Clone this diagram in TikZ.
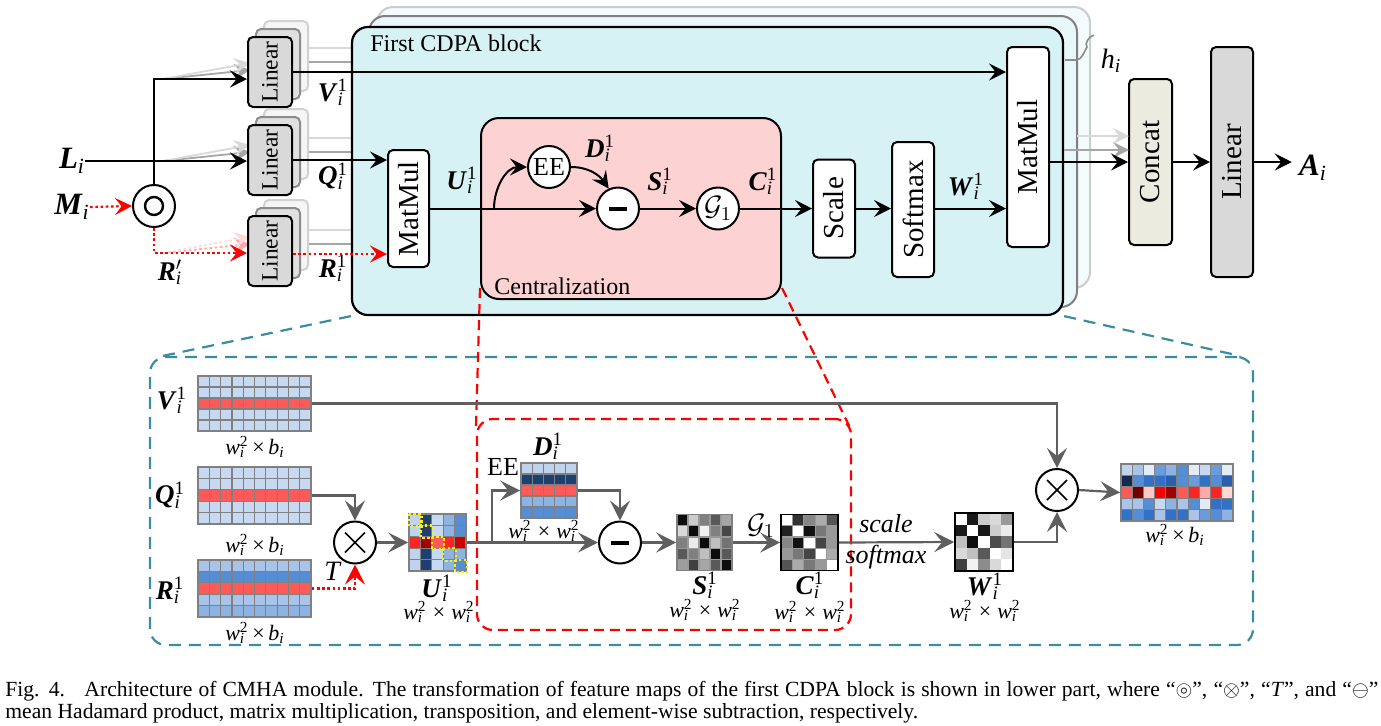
\documentclass[tikz,border=0pt]{standalone}
\usepackage{fix-cm}
\usepackage{amssymb}
\usepackage{fontspec}
\setmainfont{Liberation Serif}
\usetikzlibrary{arrows.meta,calc,decorations.pathreplacing}
\newcommand\fs[1]{\fontsize{#1}{#1}\selectfont}
\newcommand\supsub[2]{\begingroup\setbox0\hbox{\textsuperscript{#1}}\setbox2\hbox{\textsubscript{#2}}\ifdim\wd0>\wd2 \rlap{\box2}\box0 \else\rlap{\box0}\box2 \fi\endgroup}
\newcommand\bl[3]{\textbf{\textit{#1}}\supsub{#2}{\textit{#3}}}
\newcommand\dwb{\textit{w}\supsub{2}{\textit{i}}\,×\,\textit{b}\textsubscript{\textit{i}}}
\newcommand\dww{\textit{w}\supsub{2}{\textit{i}}\;×\;\textit{w}\supsub{2}{\textit{i}}}
\definecolor{cdpa}{HTML}{D6F2F5}
\definecolor{cdpaB}{HTML}{E8F7F9}
\definecolor{cdpaC}{HTML}{F4FBFC}
\definecolor{centc}{HTML}{FDD2D2}
\definecolor{lingray}{HTML}{D9D9D9}
\definecolor{concatc}{HTML}{EBEBE0}
\definecolor{teal2}{HTML}{3A8CA0}
\definecolor{garrc}{HTML}{5F5F5F}
\definecolor{gridc}{HTML}{808080}
\definecolor{qa}{HTML}{C6D9F1}
\definecolor{rr}{HTML}{FF5A5A}
\definecolor{ba}{HTML}{C0D3EC}
\definecolor{bb}{HTML}{A9C4E8}
\definecolor{bc}{HTML}{8DB3E2}
\definecolor{bd}{HTML}{6A9CDB}
\definecolor{be}{HTML}{558ED5}
\definecolor{bf}{HTML}{3271C6}
\definecolor{bg}{HTML}{2A5FAE}
\definecolor{bn}{HTML}{1F3F70}
\definecolor{bx}{HTML}{152A50}
\definecolor{bw}{HTML}{E3EBF6}
\definecolor{ra}{HTML}{700000}
\definecolor{rb}{HTML}{FFC8C8}
\definecolor{rc}{HTML}{FF0000}
\definecolor{rd}{HTML}{A00000}
\definecolor{re}{HTML}{FF2424}
\definecolor{rf}{HTML}{FFA8A8}
\definecolor{rg}{HTML}{FFD8D8}
\definecolor{rh}{HTML}{CC0000}
% cells: x0 y0 cw ch rows
\newcommand\cells[5]{%
  \foreach \rowc [count=\r from 0] in {#5}{%
    \foreach \cc [count=\k from 0] in \rowc{%
      \fill[fill=\cc] ({#1+\k*#3},{#2+\r*#4}) rectangle ++(#3,#4);}}}
% grid lines: x0 y0 cw ch ncols nrows color
\newcommand\gridl[7]{%
  \foreach \k in {1,...,#5}{\draw[#7, line width=0.6pt] ({#1+\k*#3},#2) -- ++(0,{#6*#4});}
  \foreach \k in {1,...,#6}{\draw[#7, line width=0.6pt] (#1,{#2+\k*#4}) -- ++({#5*#3},0);}}
\tikzset{
  arr/.style={line width=1pt, -{Stealth[length=8.5pt,width=8.5pt,inset=3.3pt]}},
  rdot/.style={line width=1.1pt, draw=red, dash pattern=on 1.3pt off 1.3pt, -{Stealth[length=8.5pt,width=8.5pt,inset=3.3pt]}},
  garr/.style={line width=1.1pt, draw=garrc, -{Stealth[length=10pt,width=10pt,inset=4pt]}},
  rdarr/.style={line width=1.1pt, draw=red, dash pattern=on 1.3pt off 1.3pt, -{Stealth[length=10pt,width=10pt,inset=4pt]}},
  blk/.style={draw, line width=1pt, rounded corners=2.5pt, inner sep=0pt, font=\fs{14.5}},
  lin/.style={blk, minimum width=22pt, minimum height=35pt, font=\fs{11.7}},
  circ/.style={circle, draw, line width=1pt, fill=white, minimum size=21pt, inner sep=0pt},
  lab/.style={inner sep=0pt, font=\fs{13.5}},
  dim/.style={inner sep=0pt, font=\fs{11}},
  matn/.style={draw=gridc, line width=0.8pt, inner sep=0pt},
  tdash/.style={draw=teal2, line width=1.1pt, dash pattern=on 6pt off 4pt},
  rdash/.style={draw=red, line width=1.1pt, dash pattern=on 5pt off 3pt},
  faintA/.style={line width=0.9pt, draw=black!35},
  faintB/.style={line width=0.9pt, draw=black!15},
  ftip/.style={-{Stealth[length=8pt,width=8pt,inset=3pt]}},
}
\begin{document}
\begin{tikzpicture}[x=0.5pt,y=-0.5pt]
\useasboundingbox (0,0) rectangle (1381,725);

% ---------- CDPA layers ----------
\draw[draw=black!20, fill=cdpaC, line width=1pt, rounded corners=8pt] (377,7) rectangle (1090,288);
\draw[draw=black!50, fill=cdpaB, line width=1pt, rounded corners=8pt] (369,16) rectangle (1077,307);

% faint lines behind linear stacks
\foreach \yy in {0,90,182}{
  \draw[faintA] (300,{62+\yy}) -- (352,{62+\yy});
  \draw[faintB] (308,{48+\yy}) -- (352,{48+\yy});
}
\draw[faintA, ftip] (163,79) -- (250,70);
\draw[faintB, ftip] (163,79) -- (250,63);
\draw[faintA, ftip] (163,161) -- (250,152);
\draw[faintB, ftip] (163,161) -- (250,145);
\draw[faintA, draw=red!35, dash pattern=on 1.3pt off 1.3pt, ftip] (163,253) -- (250,244);
\draw[faintB, draw=red!15, dash pattern=on 1.3pt off 1.3pt, ftip] (163,253) -- (250,237);

% main block
\node[draw, line width=1.1pt, fill=cdpa, rounded corners=8pt, minimum width=355.5pt, minimum height=144pt, inner sep=0pt] (cdpa) at (707.5,171) {};
\node[anchor=west, inner sep=0pt, font=\fs{12}] (cdpat) at (370,43) {First CDPA block};

% h_i brace
\draw[black!45, line width=0.8pt] (1065,60) -- (1076,60) .. controls (1082,60) and (1084,52) .. (1087,47) .. controls (1084,44) and (1089,36) .. (1094,35);
\node[inner sep=0pt, font=\fs{14}] (hl) at (1111,61) {\textit{h}\textsubscript{\textit{i}}};

% centralization
\node[draw, line width=1pt, fill=centc, rounded corners=9pt, minimum width=150pt, minimum height=90.5pt, inner sep=0pt] (cent) at (631,208.5) {};
\node[anchor=west, inner sep=0pt, font=\fs{12}] (centt) at (494,286) {Centralization};

% linear stacks
\foreach \nm/\yy in {linV/72, linQ/160, linR/251}{
  \node[lin, draw=black!18, fill=black!4] at (286,{\yy-16}) {};
  \node[lin, draw=black!45, fill=black!12] at (278,{\yy-8}) {};
  \node[lin, fill=lingray] (\nm) at (270,\yy) {\rotatebox{90}{Linear}};
}

% boxes
\node[blk, fill=white, minimum width=20.5pt, minimum height=58.5pt] (mm1) at (408.5,208.5) {\rotatebox{90}{MatMul}};
\node[blk, fill=white, minimum width=21pt, minimum height=49pt] (scale) at (834,208.5) {\rotatebox{90}{Scale}};
\node[blk, fill=white, minimum width=21pt, minimum height=67.5pt] (soft) at (913,209.5) {\rotatebox{90}{Softmax}};
\node[blk, fill=white, minimum width=21pt, minimum height=100pt] (mm2) at (1028,147) {\rotatebox{90}{MatMul}};
\node[blk, fill=concatc, minimum width=21.5pt, minimum height=83pt] (concat) at (1150.5,162) {\rotatebox{90}{Concat}};
\node[blk, fill=lingray, minimum width=21pt, minimum height=115pt] (lin2) at (1232,162) {\rotatebox{90}{Linear}};

% faint arrows into Concat
\coordinate (cA) at (1129,150);
\coordinate (cB) at (1129,136);
\draw[faintA, ftip] (cdpa.east |- cA) -- (cA);
\draw[faintB, ftip] (1077,136) -- (cB);

% circles
\node[circ] (had) at (154,206) {};
\node[circle, draw, line width=1.2pt, minimum size=9pt, inner sep=0pt] (hadin) at (had) {};
\node[circ, font=\fs{13}] (ee) at (549,167) {EE};
\node[circ] (mn1) at (618,208.5) {};
\draw[line width=2pt] ($(mn1)+(-9,0)$) -- ($(mn1)+(9,0)$);
\node[circ, font=\fs{14}] (g1) at (718,208.5) {$\mathcal{G}_1$};

% labels top
\node[lab, font=\fs{15.5}] (Ll) at (72,161) {\bl{L}{}{i}};
\node[lab, font=\fs{15.5}] (Ml) at (72,207) {\bl{M}{}{i}};
\node[lab, font=\fs{15.5}] (Al) at (1313,168) {\bl{A}{}{i}};
\node[lab] (Rpl) at (170,272) {\bl{R}{$\prime$}{i}};
\node[lab] (Vl) at (333,92) {\bl{V}{1}{i}};
\node[lab] (Ql) at (333,176) {\bl{Q}{1}{i}};
\node[lab] (Rl) at (333,268) {\bl{R}{1}{i}};
\node[lab] (Ul) at (462,180) {\bl{U}{1}{i}};
\node[lab] (Dl) at (600,148) {\bl{D}{1}{i}};
\node[lab] (Sl) at (660,181) {\bl{S}{1}{i}};
\node[lab] (Cl) at (763,181) {\bl{C}{1}{i}};
\node[lab] (Wl) at (966,186) {\bl{W}{1}{i}};

% connectors top
\draw[arr] (Ll.east) -- (Ll.east -| linQ.west);
\draw[arr] (had.north) |- ($(linV.west)+(0,7)$);
\draw[rdot] (Ml.east) -- (had.west);
\draw[rdot] (had.south) |- ($(linR.west)+(0,2)$);
\draw[arr] (linV.east) -- (linV.east -| mm2.west);
\draw[arr] (linQ.east) -- (linQ.east -| mm1.west);
\draw[rdot] ($(linR.east)+(0,3)$) -- ($(linR.east -| mm1.west)+(0,3)$);
\draw[arr] (mm1.east) -- (mn1.west);
\coordinate (ubr) at (494,208.5);
\draw[arr] (ubr) to[out=90,in=180] (ee.west);
\draw[arr] (ee.east) to[out=0,in=125] (mn1.115);
\draw[arr] (mn1.east) -- (g1.west);
\draw[arr] (g1.east) -- (scale.west);
\draw[arr] (scale.east) -- (scale.east -| soft.west);
\draw[arr] (scale.east -| soft.east) -- (scale.east -| mm2.west);
\draw[arr] (concat.west -| mm2.east) -- (concat.west);
\draw[arr] (concat.east) -- (lin2.west);
\draw[arr] (lin2.east) -- ($(lin2.east -| Al.west)+(-7,0)$);

% ---------- bottom ----------
\node[tdash, rounded corners=8pt, minimum width=551.5pt, minimum height=144pt, inner sep=0pt] (tbox) at (701.5,501) {};
\draw[tdash] (cdpa.south west) -- ($(tbox.north west)+(14,0)$);
\draw[tdash] (cdpa.south east) -- ($(tbox.north east)+(-14,0)$);
\node[rdash, rounded corners=8pt, minimum width=187pt, minimum height=105.5pt, inner sep=0pt] (rbox) at (664,524.5) {};
\draw[rdash] ($(cent.south west)+(0,-12)$) -- ($(rbox.north west)+(0,12)$);
\draw[rdash] ($(cent.south east)+(0,-12)$) -- ($(rbox.north east)+(0,14)$);

% matrices
\cells{198}{376}{11.3}{11}{{qa,qa,qa,qa,qa,qa,qa,qa,qa,qa},{qa,qa,qa,qa,qa,qa,qa,qa,qa,qa},{rr,rr,rr,rr,rr,rr,rr,rr,rr,rr},{qa,qa,qa,qa,qa,qa,qa,qa,qa,qa},{qa,qa,qa,qa,qa,qa,qa,qa,qa,qa}}
\gridl{198}{376}{11.3}{11}{10}{5}{gridc}
\node[matn, minimum width=56.5pt, minimum height=27.5pt] (Vm) at (254.5,403.5) {};

\cells{198}{467}{11.3}{11.4}{{qa,qa,qa,qa,qa,qa,qa,qa,qa,qa},{qa,qa,qa,qa,qa,qa,qa,qa,qa,qa},{rr,rr,rr,rr,rr,rr,rr,rr,rr,rr},{qa,qa,qa,qa,qa,qa,qa,qa,qa,qa},{qa,qa,qa,qa,qa,qa,qa,qa,qa,qa}}
\gridl{198}{467}{11.3}{11.4}{10}{5}{gridc}
\node[matn, minimum width=56.5pt, minimum height=28.5pt] (Qm) at (254.5,495.5) {};

\cells{198}{560}{11.3}{11.4}{{bb,bb,bb,bb,bb,bb,bb,bb,bb,bb},{be,be,be,be,be,be,be,be,be,be},{rr,rr,rr,rr,rr,rr,rr,rr,rr,rr},{bb,bb,bb,bb,bb,bb,bb,bb,bb,bb},{bc,bc,bc,bc,bc,bc,bc,bc,bc,bc}}
\gridl{198}{560}{11.3}{11.4}{10}{5}{gridc}
\node[matn, minimum width=56.5pt, minimum height=28.5pt] (Rm) at (254.5,588.5) {};

\cells{409}{514}{11.4}{11.4}{{ba,bn,qa,bc,be},{ba,bn,qa,bc,be},{re,rd,rr,re,rh},{ba,bn,qa,bc,bc},{ba,bn,qa,bc,be}}
\gridl{409}{514}{11.4}{11.4}{5}{5}{gridc}
\node[matn, minimum width=28.5pt, minimum height=28.5pt] (Um) at (437.5,542.5) {};
\foreach \k in {0,...,4}{
  \draw[yellow, line width=1.1pt, dash pattern=on 1.2pt off 1.2pt] ({409+\k*11.4},{514+\k*11.4}) rectangle ++(12.5,12.5);
}

\cells{521}{463}{11.2}{11}{{ba,ba,ba,ba,ba},{bn,bn,bn,bn,bn},{rr,rr,rr,rr,rr},{bc,bc,bc,bc,bc},{be,be,be,be,be}}
\gridl{521}{463}{11.2}{11}{5}{5}{gridc}
\node[matn, minimum width=28pt, minimum height=27.5pt] (Dm) at (549,490.5) {};

\cells{677}{514.5}{11}{11.2}{{black!95,black!20,black!50,black!65,black!35},{black!15,black!95,black!5,black!50,black!72},{black!50,black!8,black!95,black!25,black!55},{black!65,black!50,black!25,black!95,black!65},{black!38,black!75,black!35,black!65,black!95}}
\gridl{677}{514.5}{11}{11.2}{5}{5}{black!40}
\node[matn, minimum width=27.5pt, minimum height=28pt] (Sm) at (704.5,542.5) {};

\cells{781}{514.5}{11.4}{11.2}{{black!0,black!80,black!47,black!33,black!67},{black!87,black!0,black!93,black!53,black!40},{black!47,black!93,black!0,black!73,black!40},{black!40,black!53,black!73,black!0,black!33},{black!67,black!33,black!53,black!40,black!0}}
\gridl{781}{514.5}{11.4}{11.2}{5}{5}{black!40}
\node[matn, draw=black, minimum width=28.5pt, minimum height=28pt] (Cm) at (809.5,542.5) {};

\cells{955}{513}{11.6}{11.6}{{black!0,black!90,black!20,black!15,black!40},{black!90,black!0,black!90,black!20,black!8},{black!25,black!95,black!0,black!70,black!55},{black!15,black!25,black!65,black!0,black!10},{black!75,black!5,black!45,black!15,black!0}}
\node[matn, draw=black, minimum width=29pt, minimum height=29pt] (Wm) at (984,542) {};

\cells{1121}{464}{11.2}{11.4}{{ba,bb,bw,bd,bc,be,bw,qa,bd,bw},{bx,be,bf,bf,bg,be,bd,bf,be,bg},{rr,ra,rb,rc,rd,rr,re,rf,re,rg},{bb,bb,be,qa,bc,bb,be,bw,bf,bf},{bf,be,bf,bb,bf,bf,bb,bd,be,bc}}
\gridl{1121}{464}{11.2}{11.4}{10}{5}{gridc}
\node[matn, minimum width=56pt, minimum height=28.5pt] (Om) at (1177,492.5) {};

% circles bottom
\node[circ] (ox1) at (355,542.5) {};
\draw[line width=0.8pt] ($(ox1)+(-10,-10)$) -- ($(ox1)+(10,10)$) ($(ox1)+(-10,10)$) -- ($(ox1)+(10,-10)$);
\node[circ] (mn2) at (620,542.5) {};
\draw[line width=2pt] ($(mn2)+(-9,0)$) -- ($(mn2)+(9,0)$);
\node[circ] (ox2) at (1057,490) {};
\draw[line width=0.8pt] ($(ox2)+(-10,-10)$) -- ($(ox2)+(10,10)$) ($(ox2)+(-10,10)$) -- ($(ox2)+(10,-10)$);

% bottom labels
\node[lab] (Vbl) at (172,400) {\bl{V}{1}{i}};
\node[lab] (Qbl) at (170,495) {\bl{Q}{1}{i}};
\node[lab] (Rbl) at (170,590) {\bl{R}{1}{i}};
\node[dim] (Vd) at (255,447) {\dwb};
\node[dim] (Qd) at (255,545) {\dwb};
\node[dim] (Rd) at (255,633) {\dwb};
\node[lab] (Ubl) at (437,588) {\bl{U}{1}{i}};
\node[dim] (Ud) at (439,612) {\dww};
\node[lab] (Dbl) at (548,446) {\bl{D}{1}{i}};
\node[dim] (Dd) at (544,531) {\dww};
\node[lab] (Sbl) at (705,585) {\bl{S}{1}{i}};
\node[dim] (Sd) at (705,610) {\dww};
\node[lab] (Cbl) at (810,585) {\bl{C}{1}{i}};
\node[dim] (Cd) at (810,612) {\dww};
\node[lab] (Wbl) at (985,586) {\bl{W}{1}{i}};
\node[dim] (Wd) at (985,611) {\dww};
\node[dim] (Od) at (1175,535) {\dwb};
\node[inner sep=0pt, font=\fs{14}] (Tl) at (333,571) {\textit{T}};
\node[inner sep=0pt, font=\fs{13}] (EEl) at (503,467) {EE};
\node[inner sep=0pt, font=\fs{14}] (Gl) at (761,526) {$\mathcal{G}_1$};
\node[inner sep=0pt, font=\fs{13}] (scl) at (886,524) {\textit{scale}};
\node[inner sep=0pt, font=\fs{13}] (sml) at (886,557) {\textit{softmax}};

% bottom connectors
\draw[garr] (Vm.east) -| (ox2.north);
\draw[garr] (Qm.east) -| (ox1.north);
\draw[rdarr] (Rm.east) -| (ox1.south);
\draw[garr] (ox1.east) -- (Um.west);
\coordinate (ubr2) at (492,542.5);
\draw[garr] (Um.east) -- (mn2.west);
\draw[garr] (ubr2) |- (Dm.west);
\draw[garr] (Dm.east) -| (mn2.north);
\draw[garr] (mn2.east) -- (Sm.west);
\draw[garr] (Sm.east) -- (Cm.west);
\draw[garr] (Cm.east) -- (Wm.west);
\draw[garr] (Wm.east) -| (ox2.south);
\draw[garr] (ox2.east) -- (Om.west);

% caption
\node[anchor=base west, inner sep=0pt, font=\fs{10.8}] (cap1) at (5,696) {\makebox[686.5pt][s]{Fig. 4.\hspace{0.9em}Architecture of CMHA module. The transformation of feature maps of the first CDPA block is shown in lower part, where “$\circledcirc$”, “$\otimes$”, “\textit{T}”, and “$\ominus$”}};
\node[anchor=base west, inner sep=0pt, font=\fs{10.8}] (cap2) at (5,718) {mean Hadamard product, matrix multiplication, transposition, and element-wise subtraction, respectively.};
\end{tikzpicture}
\end{document}
